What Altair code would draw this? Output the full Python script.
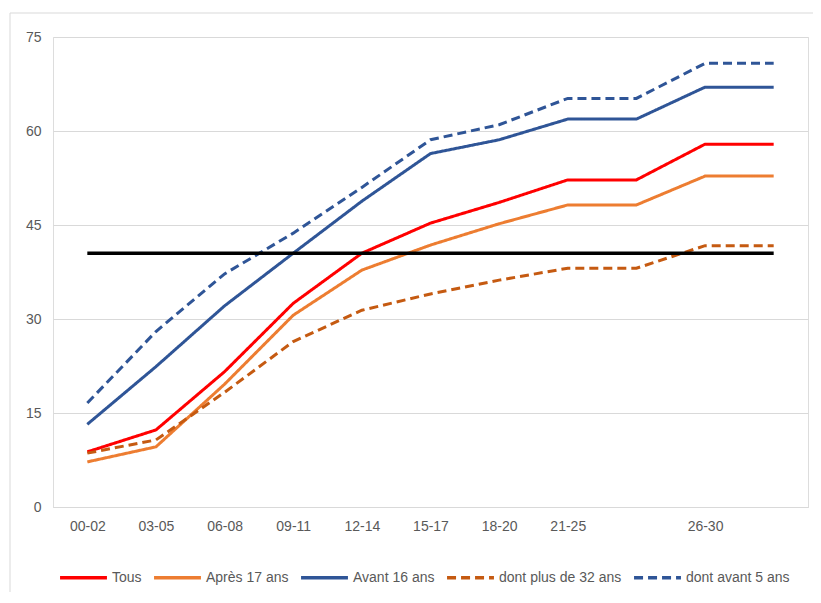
import altair as alt
import pandas as pd

categories = ["00-02", "03-05", "06-08", "09-11", "12-14", "15-17", "18-20", "21-25", " ", "26-30", "  "]

tous = [8.8, 12.3, 21.6, 32.5, 40.5, 45.3, 48.6, 52.2, 52.2, 57.9, 57.9]
apres_17 = [7.2, 9.6, 19.6, 30.6, 37.8, 41.8, 45.2, 48.2, 48.2, 52.8, 52.8]
avant_16 = [13.2, 22.4, 32.1, 40.5, 48.8, 56.4, 58.6, 61.9, 61.9, 67.0, 67.0]
plus_32 = [8.6, 10.7, 18.3, 26.4, 31.4, 34.0, 36.2, 38.1, 38.1, 41.7, 41.7]
avant_5 = [16.6, 28.0, 37.2, 43.7, 51.0, 58.6, 61.0, 65.2, 65.2, 70.8, 70.8]

series_names = ["Tous", "Après 17 ans", "Avant 16 ans", "dont plus de 32 ans", "dont avant 5 ans"]
series_values = [tous, apres_17, avant_16, plus_32, avant_5]
series_colors = ["#FF0000", "#ED7D31", "#2F5597", "#C55A11", "#2F5597"]
series_dash = [[1, 0], [1, 0], [1, 0], [9, 5], [9, 5]]

reference_level = 40.5
reference_span = ["00-02", "  "]

y_ticks = [0, 15, 30, 45, 60, 75]

rows = []
for name, vals in zip(series_names, series_values):
    for c, v in zip(categories, vals):
        rows.append({"cat": c, "value": v, "series": name})
df = pd.DataFrame(rows)

ref_df = pd.DataFrame({"cat": reference_span, "value": [reference_level] * 2})

FONT = "Liberation Sans"

xenc = alt.X(
    "cat:N",
    sort=categories,
    scale=alt.Scale(type="point", padding=0.5),
    axis=alt.Axis(
        title=None, labelAngle=0, ticks=False, domain=True, domainColor="#d9d9d9",
        labelColor="#595959", labelFontSize=14, labelPadding=12, labelFont=FONT,
    ),
)
yenc = alt.Y(
    "value:Q",
    scale=alt.Scale(domain=[0, 75], nice=False),
    axis=alt.Axis(
        title=None, values=y_ticks, ticks=False, domain=False, grid=True,
        gridColor="#d9d9d9", gridWidth=1, labelColor="#595959", labelFontSize=14,
        labelPadding=12, labelFont=FONT,
    ),
)

border = alt.Chart(pd.DataFrame({"a": [0]})).mark_rect(
    fill=None, stroke="#d9d9d9", strokeWidth=1
).encode(
    x=alt.value(-43), x2=alt.value(900), y=alt.value(-24), y2=alt.value(700)
)

ref_line = alt.Chart(ref_df).mark_line(color="#000000", strokeWidth=3.5).encode(
    x=xenc, y=yenc
)

lines = alt.Chart(df).mark_line(strokeWidth=3).encode(
    x=xenc,
    y=yenc,
    color=alt.Color(
        "series:N",
        sort=series_names,
        scale=alt.Scale(domain=series_names, range=series_colors),
        legend=alt.Legend(
            title=None, orient="none", direction="horizontal", legendX=5, legendY=515,
            symbolType="stroke", symbolSize=2200, symbolStrokeWidth=3.5,
            labelFont=FONT, labelFontSize=14, labelColor="#595959",
            labelOffset=3, columnPadding=5,
        ),
    ),
    strokeDash=alt.StrokeDash(
        "series:N",
        sort=series_names,
        scale=alt.Scale(domain=series_names, range=series_dash),
        legend=None,
    ),
    detail="series:N",
)

chart = alt.layer(border, lines, ref_line).properties(
    width=755, height=470,
    padding={"left": 45, "top": 29, "right": 5, "bottom": 85},
    autosize=alt.AutoSizeParams(type="none"),
).configure_view(strokeWidth=0).configure(background="white")

chart.save("out.html", embed_options={"renderer": "svg", "actions": False})
